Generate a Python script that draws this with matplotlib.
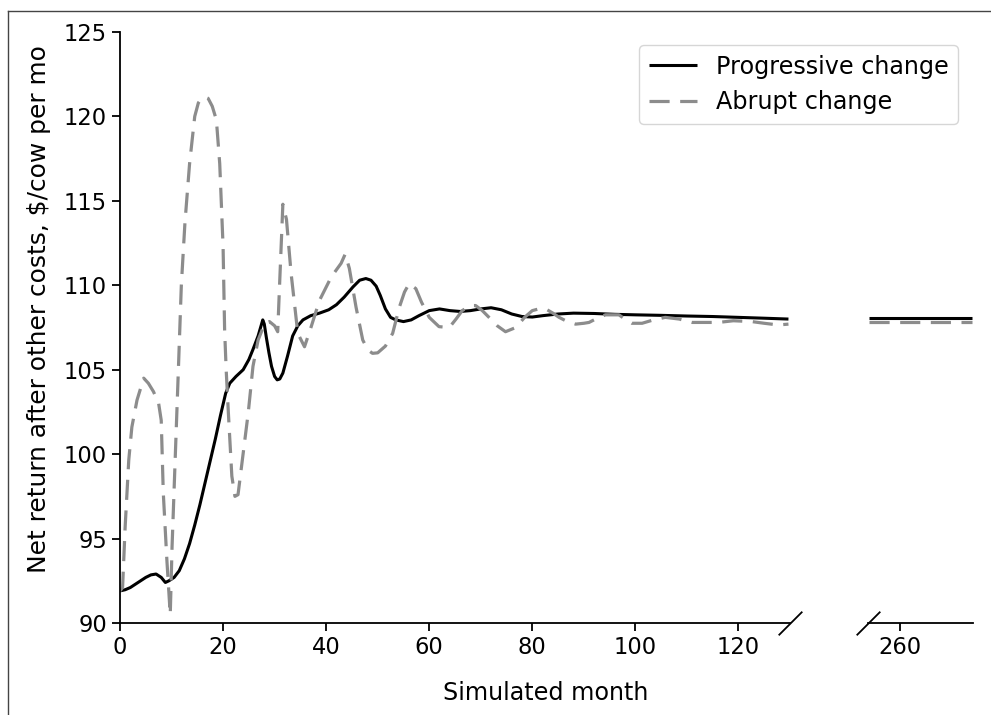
import matplotlib
matplotlib.use("Agg")
import matplotlib.pyplot as plt
from matplotlib.lines import Line2D

# ---------------- data ----------------
prog_months = [0, 1, 2, 3, 4, 5, 6, 7, 8, 8.8, 9.5, 10.5, 11.5, 12.5, 13.5, 14.5, 15.5,
               16.5, 17.5, 18.5, 19.5, 20.5, 21.3, 22.5, 23.9, 25, 25.8, 26.8, 27.7, 28.0,
               28.4, 28.9, 29.4, 30.0, 30.5, 31.0, 31.6, 32.5, 33.5, 34.5, 35.5, 37, 38.7,
               40.5, 42, 43.5, 45.2, 46.5, 47.7, 48.7, 49.7, 50.5, 51.5, 52.5, 53.5, 55,
               56.5, 58, 60, 62, 64, 66, 68, 70, 72, 74, 76, 78, 80, 82, 85, 88, 92, 96,
               100, 105, 110, 115, 120, 125, 129.7]
prog_values = [91.9, 91.97, 92.1, 92.3, 92.5, 92.7, 92.85, 92.9, 92.7, 92.4, 92.5, 92.7,
               93.1, 93.8, 94.7, 95.8, 97.0, 98.3, 99.6, 100.9, 102.3, 103.6, 104.2, 104.6,
               105.0, 105.6, 106.2, 107.0, 107.95, 107.7, 106.9, 106.0, 105.2, 104.6, 104.4,
               104.45, 104.8, 105.8, 107.0, 107.6, 107.95, 108.2, 108.35, 108.55, 108.85,
               109.3, 109.9, 110.3, 110.4, 110.3, 109.95, 109.4, 108.6, 108.1, 107.95,
               107.85, 107.95, 108.2, 108.5, 108.6, 108.5, 108.45, 108.5, 108.6, 108.67,
               108.55, 108.3, 108.15, 108.12, 108.2, 108.3, 108.35, 108.33, 108.28, 108.25,
               108.22, 108.18, 108.15, 108.1, 108.05, 108.0]

abrupt_months = [0, 0.5, 1.0, 1.7, 2.3, 3.3, 4.6, 5.5, 6.5, 7.5, 8.0, 8.4, 9.1, 9.75, 10.1,
                 10.7, 11.35, 11.9, 12.6, 13.5, 14.5, 15.2, 15.8, 16.5, 17.1, 17.9, 18.7,
                 19.35, 20.0, 20.3, 20.6, 21.0, 21.7, 22.3, 22.9, 23.9, 24.9, 25.8, 26.8,
                 28.1, 29.0, 30.0, 30.6, 31.0, 31.6, 32.3, 33.2, 34.5, 35.8, 37.1, 38.7,
                 41.0, 42.9, 43.7, 44.5, 45.8, 47.1, 48.1, 49.0, 50.0, 51.5, 52.9, 54.2,
                 55.2, 56.1, 57.4, 58.5, 60.0, 61.9, 63.9, 65.2, 66.4, 68.0, 69.0, 70.3,
                 71.6, 73.2, 74.8, 76.8, 78.5, 80.0, 81.5, 82.6, 84.0, 85.2, 86.8, 88.4,
                 90.0, 91.0, 92.6, 94.2, 96.8, 98.0, 99.3, 101.3, 103.5, 105.8, 108.5,
                 111.0, 116.1, 119.0, 122.6, 125.0, 127.7, 129.7]
abrupt_values = [91.9, 92.1, 95.7, 99.65, 101.6, 103.2, 104.5, 104.2, 103.7, 103.0, 102.0,
                 97.7, 93.7, 90.5, 94.5, 99.65, 105.2, 110.0, 113.7, 117.2, 120.0, 120.8,
                 121.07, 121.15, 121.07, 120.6, 119.8, 117.2, 112.3, 107.35, 105.0, 102.6,
                 98.7, 97.5, 97.6, 100.05, 102.5, 105.2, 106.76, 107.75, 107.85, 107.6,
                 107.25, 110.3, 114.8, 113.9, 110.7, 107.15, 106.36, 107.55, 109.1, 110.5,
                 111.3, 111.85, 111.0, 108.7, 106.76, 106.17, 105.97, 106.0, 106.4, 107.15,
                 108.7, 109.6, 110.1, 109.8, 109.0, 108.1, 107.55, 107.5, 108.0, 108.5,
                 108.8, 108.8, 108.5, 108.1, 107.6, 107.25, 107.5, 108.1, 108.5, 108.62,
                 108.6, 108.35, 108.1, 107.85, 107.7, 107.75, 107.8, 108.05, 108.25, 108.25,
                 108.0, 107.75, 107.75, 107.95, 108.1, 108.0, 107.8, 107.8, 107.9, 107.85,
                 107.75, 107.65, 107.7]

late_months = [254, 264, 274]
late_prog = [108.08, 108.08, 108.08]
late_abrupt = [107.85, 107.85, 107.85]

yticks = [90, 95, 100, 105, 110, 115, 120, 125]
xticks_left = [0, 20, 40, 60, 80, 100, 120]
xticks_right = [260]

# ---------------- figure ----------------
W, H = 991, 715
fig = plt.figure(figsize=(W / 100, H / 100), dpi=100)

FS_TICK = 16.3
FS_LAB = 17.2
lw_spine = 1.3

def fx(px):
    return px / W

def fy(py):
    return 1 - py / H

axL = fig.add_axes([fx(120), fy(623), fx(790 - 120), (623 - 32) / H])
axR = fig.add_axes([fx(868), fy(623), fx(973 - 868), (623 - 32) / H])

prog_kw = dict(color="black", lw=2.2, solid_capstyle="butt")
abr_kw = dict(color="#8c8c8c", lw=2.3, linestyle=(0, (6.3, 3.3)))

l1, = axL.plot(prog_months, prog_values, label="Progressive change", **prog_kw)
l2, = axL.plot(abrupt_months, abrupt_values, label="Abrupt change", **abr_kw)
axR.plot(late_months, late_prog, **prog_kw)
axR.plot(late_months, late_abrupt, **abr_kw)

for ax in (axL, axR):
    ax.set_ylim(90, 125)
    ax.spines["top"].set_visible(False)
    ax.spines["right"].set_visible(False)
    for s in ax.spines.values():
        s.set_linewidth(lw_spine)
    ax.tick_params(labelsize=FS_TICK, length=5.8, width=lw_spine)

axL.set_xlim(0, 130)
axL.set_xticks(xticks_left)
axL.set_yticks(yticks)

axR.set_xlim(253.8, 274.2)
axR.set_xticks(xticks_right)
axR.spines["left"].set_visible(False)
axR.set_yticks([])

axL.set_ylabel(r"Net return after other costs, \$/cow per mo", fontsize=17.9)
axL.yaxis.set_label_coords(-(120 - 51) / 670, (623 - 309) / 591)
fig.text(fx(546), fy(693), "Simulated month", fontsize=FS_LAB, ha="center", va="center")

# break marks
bk = dict(marker=[(-1, -1), (1, 1)], markersize=17, linestyle="none",
          color="k", mec="k", mew=lw_spine, clip_on=False)
axL.plot([1], [0], transform=axL.transAxes, **bk)
axR.plot([0], [0], transform=axR.transAxes, **bk)

fig.legend(handles=[l1, l2], loc="upper right", fontsize=FS_LAB,
           bbox_to_anchor=(fx(958), fy(45)), borderaxespad=0.0)

# outer frame lines (top and left)
fig.add_artist(Line2D([fx(8), 1.0], [fy(11), fy(11)], color="#444444", lw=1.0))
fig.add_artist(Line2D([fx(8), fx(8)], [fy(11), 0.0], color="#444444", lw=1.0))

fig.savefig("out.png", dpi=100)
